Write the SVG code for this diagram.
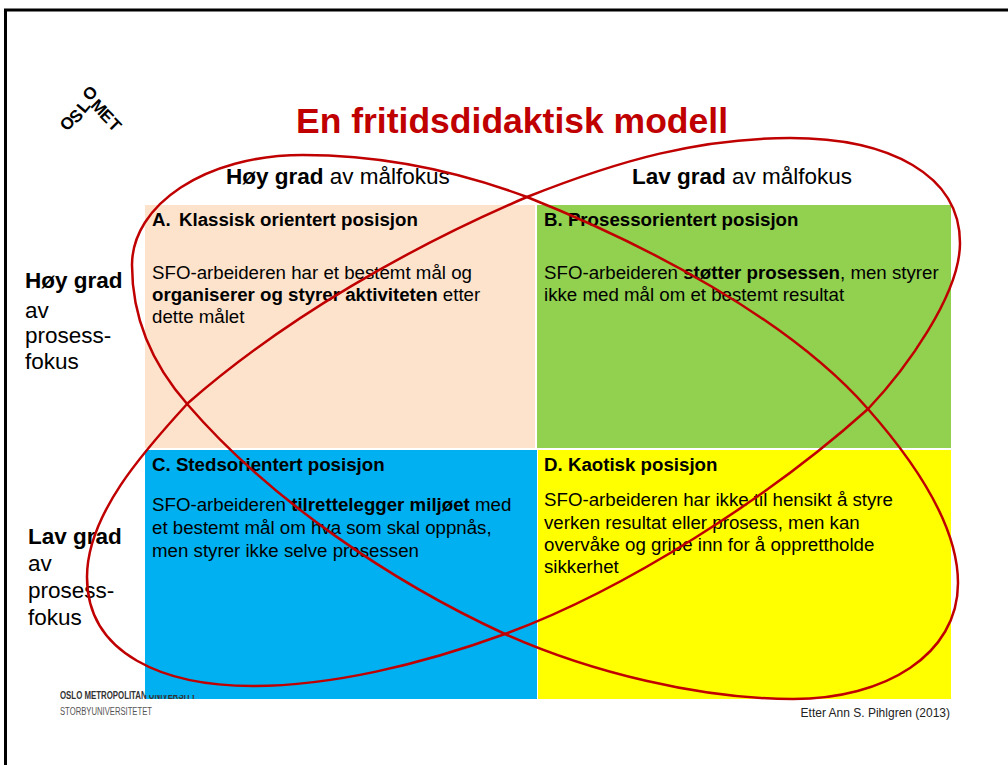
<svg xmlns="http://www.w3.org/2000/svg" width="1008" height="765" viewBox="0 0 1008 765">
<style>
text{font-family:"Liberation Sans",Arial,sans-serif;fill:#000}
.h{font-size:22.500px}
.b{font-weight:bold}
.cell{font-size:18.700px}
.e{fill:none;stroke:#c00000;stroke-width:2.5}
</style>
<rect width="1008" height="765" fill="#fff"/>
<path d="M5.500 765V10H1008" fill="none" stroke="#000" stroke-width="3"/>
<g id="logo"><text font-size="17" class="b" x="66.700 76.300 84.600 89.600 89.700 98.700 107" y="132 124.300 114 102 106.300 116.300 125.600" rotate="-45 -45 -50 -45 45 45 45">OSLOMET</text></g>
<text id="title" x="512" y="133" text-anchor="middle" font-size="35.500" class="b" style="fill:#c00000">En fritidsdidaktisk modell</text>
<g id="cellA"><rect x="145" y="205" width="390" height="243" fill="#fee3cc"/><text x="152" y="226" class="cell b">A.</text><text x="179" y="226" class="cell b">Klassisk orientert posisjon</text><text x="152" y="279" class="cell">SFO-arbeideren har et bestemt mål og</text><text x="152" y="301" class="cell"><tspan class="b">organiserer og styrer aktiviteten</tspan> etter</text><text x="152" y="323" class="cell">dette målet</text></g>
<g id="cellB"><rect x="537" y="205" width="414" height="243" fill="#92d050"/><text x="544" y="226" class="cell b">B. Prosessorientert posisjon</text><text x="544" y="279" class="cell">SFO-arbeideren <tspan class="b">støtter prosessen</tspan>, men styrer</text><text x="544" y="301" class="cell">ikke med mål om et bestemt resultat</text></g>
<g id="cellC"><rect x="145" y="450" width="392" height="249" fill="#00b0f0"/><text x="152" y="471" class="cell b">C. Stedsorientert posisjon</text><text x="152" y="511" class="cell">SFO-arbeideren <tspan class="b">tilrettelegger miljøet</tspan> med</text><text x="152" y="534" class="cell">et bestemt mål om hva som skal oppnås,</text><text x="152" y="557" class="cell">men styrer ikke selve prosessen</text></g>
<g id="cellD"><rect x="538" y="450" width="413" height="249" fill="#ffff00"/><text x="544" y="471" class="cell b">D. Kaotisk posisjon</text><text x="544" y="506" class="cell">SFO-arbeideren har ikke til hensikt å styre</text><text x="544" y="529" class="cell">verken resultat eller prosess, men kan</text><text x="544" y="551" class="cell">overvåke og gripe inn for å opprettholde</text><text x="544" y="573" class="cell">sikkerhet</text></g>
<g id="col1"><text x="226" y="184" class="h"><tspan class="b">Høy grad</tspan> av målfokus</text></g>
<g id="col2"><text x="632" y="184" class="h"><tspan class="b">Lav grad</tspan> av målfokus</text></g>
<g id="row1"><text x="25" y="288" class="h b">Høy grad</text><text x="25" y="318" class="h">av</text><text x="25" y="343" class="h">prosess-</text><text x="25" y="369" class="h">fokus</text></g>
<g id="row2"><text x="28" y="544" class="h b">Lav grad</text><text x="28" y="571" class="h">av</text><text x="28" y="598" class="h">prosess-</text><text x="28" y="625" class="h">fokus</text></g>
<g id="footer"><text x="60" y="699" font-size="10" class="b" style="fill:#333" textLength="136" lengthAdjust="spacingAndGlyphs">OSLO METROPOLITAN UNIVERSITY</text><rect x="145" y="688" width="51" height="7" fill="#00b0f0"/><text x="60" y="715" font-size="10" style="fill:#555" textLength="92" lengthAdjust="spacingAndGlyphs">STORBYUNIVERSITETET</text><text x="950" y="717" text-anchor="end" font-size="12" style="fill:#222">Etter Ann S. Pihlgren (2013)</text></g>
<g id="connectors">
<path class="e" d="M132 265C132 205 205 155 303 155C378 155 452 169 527 197C647 245 789 319 868 409C913 460 958 525 958 583C958 655 885 699 793 699C700 699 590 672 505 634C392 582 270 500 188 405C150 362 132 315 132 265Z"/>
<path class="e" d="M87 577C87 515 143 452 188 403C285 318 410 247 527 197C620 160 700 138 790 138C890 138 960 175 960 243C960 295 905 370 868 409C770 497 625 590 505 634C420 665 330 686 253 686C165 686 87 655 87 577Z"/>
</g>
</svg>
